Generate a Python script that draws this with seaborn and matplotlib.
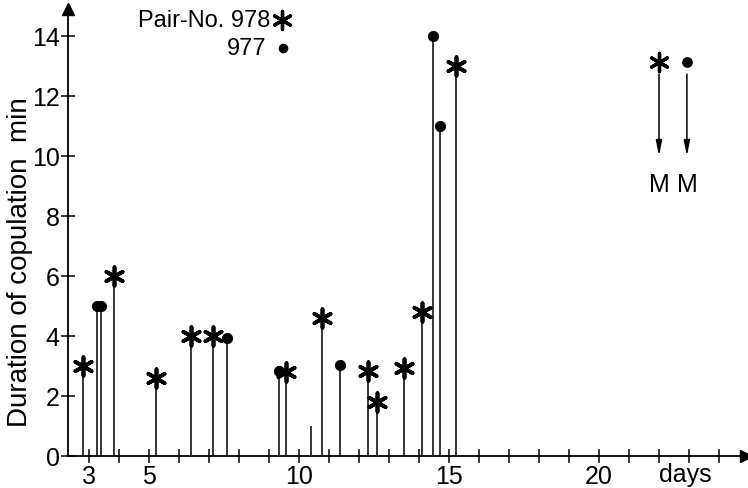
import matplotlib
matplotlib.use("Agg")
import matplotlib.pyplot as plt
import pandas as pd
import seaborn as sns

# Pair 978 (asterisks): day, duration in minutes
days_978 = [2.79, 3.83, 5.23, 6.40, 7.14, 9.56, 10.76, 12.29, 12.59, 13.51, 14.11, 15.22]
dur_978 = [3.0, 6.0, 2.6, 4.0, 4.0, 2.8, 4.6, 2.85, 1.8, 2.95, 4.8, 13.0]

# Pair 977 (dots)
days_977 = [3.26, 3.40, 7.61, 9.32, 11.37, 14.47, 14.71]
dur_977 = [5.0, 5.0, 3.95, 2.85, 3.05, 14.0, 11.0]

# short stem without a symbol
days_plain = [10.4]
dur_plain = [1.0]

# moulting (M) days
m_days = [22.0, 22.93]

x_ticks = list(range(3, 25))
x_labelled = [3, 5, 10, 15, 20]
y_ticks = list(range(0, 15, 2))

sns.set_style("ticks")
plt.rcParams["font.family"] = ["Liberation Sans", "DejaVu Sans"]
for key in ["text.color", "axes.labelcolor", "xtick.color", "ytick.color", "axes.edgecolor"]:
    plt.rcParams[key] = "black"

df978 = pd.DataFrame({"day": days_978, "dur": dur_978})
df977 = pd.DataFrame({"day": days_977, "dur": dur_977})

fig = plt.figure(figsize=(7.48, 4.89), dpi=100)
ax = fig.add_axes([68 / 748, 32 / 489, 678 / 748, 447 / 489])

STAR = (6, 2, 0)

# stems
ax.vlines(df978["day"], 0, df978["dur"], color="black", lw=1.1)
ax.vlines(df977["day"], 0, df977["dur"], color="black", lw=1.1)
ax.vlines(days_plain, 0, dur_plain, color="black", lw=1.1)

sns.scatterplot(data=df978, x="day", y="dur", marker=STAR, s=180, color="black",
                linewidth=2.7, ax=ax, zorder=3, legend=False)
sns.scatterplot(data=df977, x="day", y="dur", marker="o", s=55, color="black",
                edgecolor="black", ax=ax, zorder=3, legend=False)

# key in the top left
ax.text(9.03, 14.53, "Pair-No. 978", ha="right", va="center", fontsize=17)
ax.text(8.93, 13.6, "977", ha="right", va="center", fontsize=17)
ax.scatter([9.43], [14.53], marker=STAR, s=170, color="black", linewidth=2.4, clip_on=False)
ax.scatter([9.47], [13.6], marker="o", s=35, color="black")

# M arrows
ax.scatter([m_days[0]], [13.13], marker=STAR, s=170, color="black", linewidth=2.4)
ax.scatter([m_days[1]], [13.13], marker="o", s=45, color="black")
for xd in m_days:
    ax.annotate("", xy=(xd, 10.0), xytext=(xd, 12.73),
                arrowprops=dict(arrowstyle="-|>,head_length=0.9,head_width=0.18",
                                color="black", lw=1.1, shrinkA=0, shrinkB=0))
    ax.text(xd, 9.07, "M", ha="center", va="center", fontsize=18)

ax.set_xlim(2.3, 24.9)
ax.set_ylim(0, 14.9)
ax.set_xticks(x_ticks)
ax.set_xticklabels([str(t) if t in x_labelled else "" for t in x_ticks])
ax.set_yticks(y_ticks)
ax.tick_params(axis="both", direction="inout", length=10, width=1.1,
               labelsize=18, color="black", pad=1)
ax.set_xlabel("")
ax.set_ylabel("Duration of copulation  min", fontsize=20, va="center")
ax.yaxis.set_label_coords(-0.071, 0.435)

sns.despine(ax=ax)
ax.spines["left"].set_linewidth(1.3)
ax.spines["bottom"].set_linewidth(1.3)

# axis arrowheads
ax.plot(1, 0, marker=">", color="black", ms=9, transform=ax.transAxes, clip_on=False)
ax.plot(0, 1, marker="^", color="black", ms=9, transform=ax.transAxes, clip_on=False)

ax.text(22.87, -0.2, "days", ha="center", va="top", fontsize=18,
        transform=ax.transData, clip_on=False)

fig.savefig("out.png", dpi=100)
